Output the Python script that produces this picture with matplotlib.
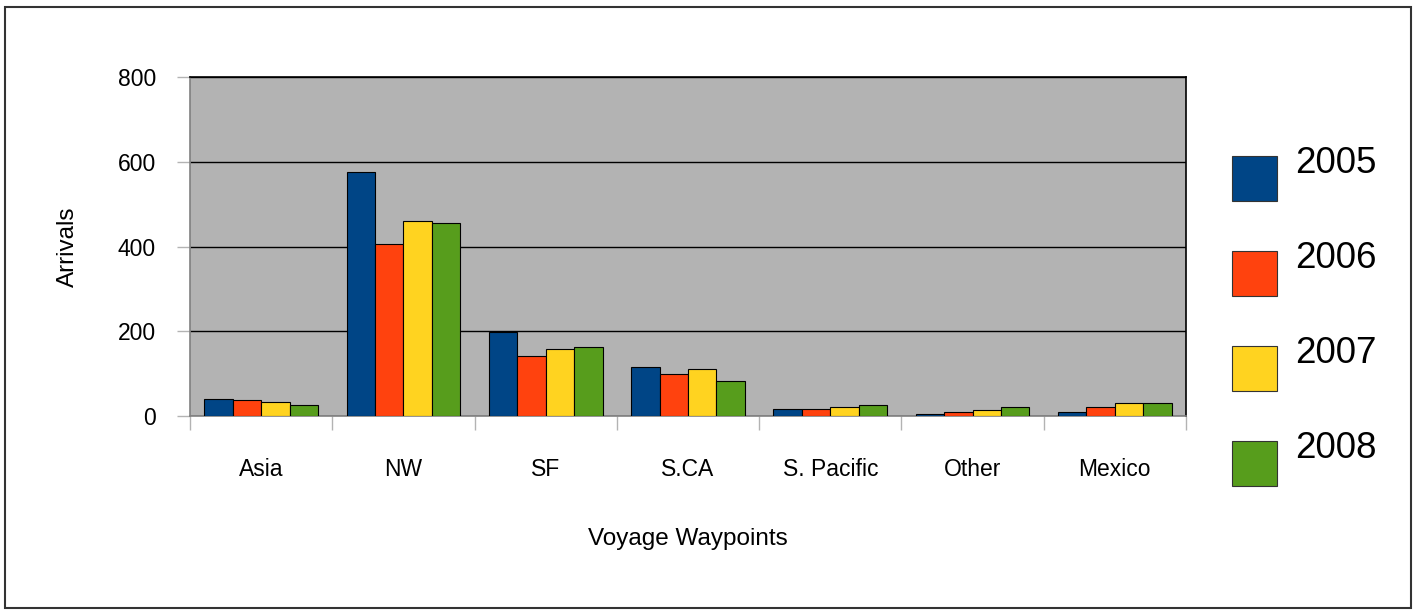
import matplotlib
matplotlib.use('Agg')
import matplotlib.pyplot as plt
import numpy as np
from matplotlib.patches import Rectangle, Patch
from matplotlib.legend_handler import HandlerPatch

plt.rcParams['font.family'] = ['Liberation Sans', 'DejaVu Sans']

# 데이터
categories = ['Asia', 'NW', 'SF', 'S.CA', 'S. Pacific', 'Other', 'Mexico']
years = ['2005', '2006', '2007', '2008']
arrivals_2005 = [39, 575, 198, 115, 16, 5, 10]
arrivals_2006 = [38, 405, 142, 98, 16, 10, 22]
arrivals_2007 = [32, 461, 159, 110, 22, 15, 31]
arrivals_2008 = [27, 455, 164, 82, 26, 22, 31]
y_ticks = [0, 200, 400, 600, 800]

series = [arrivals_2005, arrivals_2006, arrivals_2007, arrivals_2008]
colors = ['#004586', '#ff420e', '#ffd320', '#579d1c']

fig = plt.figure(figsize=(14.17, 6.14), dpi=100)
ax = fig.add_axes([190 / 1417, 1 - 416 / 614, 996 / 1417, 339 / 614])
ax.set_facecolor('#b3b3b3')

x = np.arange(len(categories))
bar_w = 0.2
for j, (vals, col) in enumerate(zip(series, colors)):
    ax.bar(x + (j - 1.5) * bar_w, vals, width=bar_w, color=col,
           edgecolor='black', linewidth=0.8, zorder=3)

ax.set_xlim(-0.5, len(categories) - 0.5)
ax.set_ylim(0, 800)

# 그리드
ax.set_yticks(y_ticks)
ax.set_yticklabels([str(v) for v in y_ticks])
ax.yaxis.grid(True, color='black', linewidth=1)
ax.set_axisbelow(True)

# x축 눈금: 카테고리 경계에 짧은 선
ax.set_xticks(x)
ax.set_xticklabels(categories)
ax.set_xticks(np.arange(len(categories) + 1) - 0.5, minor=True)
ax.tick_params(axis='x', which='major', length=0, pad=30, labelsize=16.5)
ax.tick_params(axis='x', which='minor', length=10, color='#b3b3b3', width=1)
ax.tick_params(axis='y', length=9.5, color='#b3b3b3', width=1, pad=15, labelsize=16.5)

for side in ['top', 'right']:
    ax.spines[side].set_color('black')
    ax.spines[side].set_linewidth(1.2)
for side in ['left', 'bottom']:
    ax.spines[side].set_color('#808080')
    ax.spines[side].set_linewidth(1.2)

ax.set_xlabel('Voyage Waypoints', fontsize=17.5)
ax.xaxis.set_label_coords(0.5, -0.33)
ax.set_ylabel('Arrivals', fontsize=17.5)
ax.yaxis.set_label_coords(-0.111, 0.5)


# 범례: 사각형을 글자보다 약간 아래로
def low_square(legend, orig_handle, xdescent, ydescent, width, height, fontsize):
    return Rectangle((-xdescent, -ydescent - 0.48 * fontsize), width, height)


handles = [Patch(facecolor=c, edgecolor='#333333', linewidth=0.8) for c in colors]
leg = fig.legend(handles, years, loc='upper left',
                 bbox_to_anchor=(1232 / 1417, 1 - 138 / 614),
                 frameon=False, fontsize=26.5, handlelength=1.22, handleheight=1.52,
                 handletextpad=0.5, labelspacing=1.35, borderpad=0, borderaxespad=0,
                 handler_map={Patch: HandlerPatch(patch_func=low_square)})

# 외곽 테두리
fig.patches.append(Rectangle((5 / 1417, 1 - 608 / 614), 1405.5 / 1417, 601 / 614,
                             transform=fig.transFigure, fill=False,
                             edgecolor='#333333', linewidth=1.5))

fig.savefig('out.png', dpi=100)
